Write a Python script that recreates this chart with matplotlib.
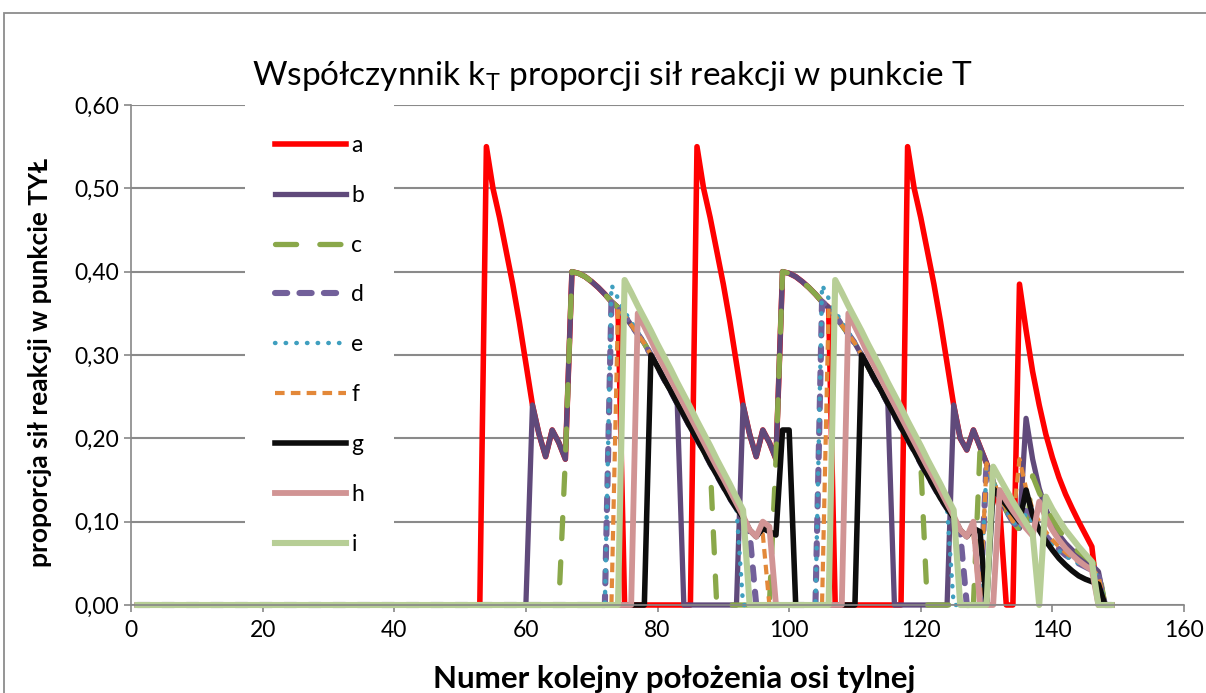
import matplotlib
matplotlib.use('Agg')
import matplotlib.pyplot as plt
import numpy as np
from matplotlib.patches import Rectangle

plt.rcParams['font.family'] = ['Lato', 'DejaVu Sans']

# rear axle position numbers
pos = np.arange(1, 150)

# shared descending curve (x = 67..93, repeats at 99..125)
env = [0.400, 0.398, 0.394, 0.388, 0.381, 0.373, 0.364, 0.357, 0.347, 0.336,
       0.325, 0.314, 0.300, 0.286, 0.271, 0.257, 0.242, 0.228, 0.213, 0.199,
       0.185, 0.170, 0.156, 0.142, 0.128, 0.116, 0.105]

a_peak = [0.55, 0.50, 0.465, 0.425, 0.385, 0.34, 0.29]
a_end = [0.19, 0.17, 0.145, 0.115, 0.0, 0.0, 0.385, 0.33, 0.28, 0.24, 0.205,
         0.177, 0.153, 0.133, 0.116, 0.10, 0.085, 0.07]
b_zig = [0.24, 0.205, 0.178, 0.21, 0.195, 0.175]
b_zig3 = [0.24, 0.20, 0.186, 0.21]
b_end = [0.19, 0.17, 0.148, 0.128, 0.113, 0.10, 0.092, 0.224, 0.175, 0.14,
         0.115, 0.097, 0.084, 0.074, 0.066, 0.059, 0.053, 0.048, 0.04]
c_rise = [0.175]
c_end = [0.185, 0.17, 0.148, 0.128, 0.113, 0.10, 0.09, 0.085, 0.155, 0.135,
         0.118, 0.103, 0.09, 0.08, 0.071, 0.064, 0.058, 0.052, 0.045]
d_tail = [0.085]
d_end = [0.17, 0.148, 0.128, 0.113, 0.10, 0.092, 0.12, 0.105, 0.093, 0.083,
         0.074, 0.067, 0.06, 0.055, 0.05, 0.046, 0.042, 0.035]
e_head = [0.384, 0.368, 0.352, 0.340, 0.327, 0.314]
e_end = [0.165, 0.148, 0.128, 0.113, 0.10, 0.092, 0.11, 0.10, 0.09, 0.08,
         0.072, 0.065, 0.059, 0.054, 0.05, 0.046, 0.042, 0.035]
f_zig = [0.09, 0.083, 0.085]
f_end = [0.17, 0.15, 0.13, 0.115, 0.10, 0.175, 0.14, 0.115, 0.10, 0.088,
         0.078, 0.07, 0.063, 0.057, 0.052, 0.047, 0.043, 0.035]
g_zig = [0.09, 0.082, 0.092, 0.088, 0.084, 0.21, 0.21]
g_zig3 = [0.09, 0.082, 0.092, 0.088]
g_end = [0.14, 0.13, 0.12, 0.11, 0.10, 0.138, 0.108, 0.09, 0.077, 0.066,
         0.056, 0.048, 0.041, 0.035, 0.031, 0.028, 0.025]
h_main = [0.350, 0.334, 0.318, 0.301, 0.286, 0.271, 0.256, 0.241, 0.226,
          0.211, 0.196, 0.181, 0.166, 0.152, 0.137, 0.122, 0.107]
h_zig = [0.09, 0.082, 0.10, 0.094]
h_zig3 = [0.09, 0.082, 0.10]
h_end = [0.138, 0.125, 0.113, 0.102, 0.092, 0.083, 0.124, 0.105, 0.09,
         0.078, 0.068, 0.06, 0.053, 0.047, 0.042]
i_main = [0.390, 0.375, 0.359, 0.344, 0.329, 0.313, 0.298, 0.283, 0.267,
          0.252, 0.237, 0.221, 0.206, 0.191, 0.175, 0.160, 0.145, 0.129, 0.114]
i_end = [0.166, 0.152, 0.138, 0.124, 0.111, 0.098, 0.086, 0.0, 0.13, 0.115,
         0.102, 0.09, 0.08, 0.07, 0.061, 0.052]

# (first position, values) pieces of each series, zero elsewhere
pieces = {
    'a': [(54, a_peak), (61, b_zig), (67, env[:8]), (86, a_peak), (93, b_zig),
          (99, env[:8]), (118, a_peak), (125, b_zig3), (129, a_end)],
    'b': [(61, b_zig), (67, env[:17]), (93, b_zig), (99, env[:17]),
          (125, b_zig3), (129, b_end)],
    'c': [(66, c_rise), (67, env[:22]), (98, c_rise), (99, env[:22]),
          (129, c_end)],
    'd': [(73, env[6:]), (94, d_tail), (105, env[6:]), (126, d_tail),
          (130, d_end)],
    'e': [(73, e_head), (79, env[12:26]), (105, e_head), (111, env[12:26]),
          (130, e_end)],
    'f': [(74, env[7:]), (94, f_zig), (106, env[7:]), (126, f_zig),
          (130, f_end)],
    'g': [(79, env[12:]), (94, g_zig), (111, env[12:]), (126, g_zig3),
          (131, g_end)],
    'h': [(77, h_main), (94, h_zig), (109, h_main), (126, h_zig3),
          (132, h_end)],
    'i': [(75, i_main), (107, i_main), (131, i_end)],
}

yticks = [0.0, 0.1, 0.2, 0.3, 0.4, 0.5, 0.6]
ytick_labels = ['0,00', '0,10', '0,20', '0,30', '0,40', '0,50', '0,60']
xticks = [0, 20, 40, 60, 80, 100, 120, 140, 160]


def build(parts):
    y = np.zeros(len(pos))
    for start, vals in parts:
        y[start - 1:start - 1 + len(vals)] = vals
    return y


styles = {
    'a': dict(color='#FF0000', lw=4.0),
    'b': dict(color='#604A7B', lw=3.8),
    'c': dict(color='#8AA84A', lw=3.8, ls=(0, (4.0, 4.4)), dash_capstyle='round'),
    'd': dict(color='#72609A', lw=4.4, ls=(0, (2.0, 2.0)), dash_capstyle='round'),
    'e': dict(color='#3F9FBF', lw=3.2, ls=(0, (0.1, 2.3)), dash_capstyle='round'),
    'f': dict(color='#E38839', lw=3.0, ls=(0, (2.3, 1.5))),
    'g': dict(color='#0D0D0D', lw=4.0),
    'h': dict(color='#D19494', lw=4.2),
    'i': dict(color='#B7CE96', lw=4.4),
}

fig = plt.figure(figsize=(12.06, 6.93), dpi=100)
ax = fig.add_axes([131 / 1206, 1 - 605 / 693, 1053 / 1206, 500 / 693])

for name, parts in pieces.items():
    ax.plot(pos, build(parts), label=name, solid_joinstyle='round',
            clip_on=False, **styles[name])

ax.set_xlim(0, 160)
ax.set_ylim(0, 0.6)
ax.set_xticks(xticks)
ax.set_yticks(yticks)
ax.set_yticklabels(ytick_labels)
ax.tick_params(labelsize=16.5, color='#888888', length=5, width=1.2)
ax.tick_params(axis='x', pad=6)
ax.yaxis.grid(True, color='#8a8a8a', lw=1.5)
ax.set_axisbelow(True)
for side in ['top', 'right']:
    ax.spines[side].set_visible(False)
for side in ['left', 'bottom']:
    ax.spines[side].set_color('#888888')
    ax.spines[side].set_linewidth(1.2)

ax.legend(loc='upper left', bbox_to_anchor=(0.108, 1.0), frameon=True,
          facecolor='white', edgecolor='none', framealpha=1, fancybox=False,
          fontsize=16.5, handlelength=3.1, handletextpad=0.25, labelspacing=1.26,
          borderpad=1.3, borderaxespad=0)

fig.text(612 / 1206, 1 - 76 / 693,
         'Współczynnik k$_\\mathregular{T}$ proporcji sił reakcji w punkcie T',
         ha='center', va='center', fontsize=24)
fig.text(40 / 1206, 1 - 362 / 693, 'proporcja sił reakcji w punkcie TYŁ',
         ha='center', va='center', rotation=90, fontsize=19, fontweight='bold')
fig.text(674 / 1206, 1 - 679 / 693, 'Numer kolejny położenia osi tylnej',
         ha='center', va='center', fontsize=22.5, fontweight='bold')

fig.add_artist(Rectangle((4 / 1206, -0.05), 1.2, 1 - 13 / 693 + 0.05,
                         transform=fig.transFigure, fill=False,
                         edgecolor='#8c8c8c', lw=1.3))

fig.savefig('out.png', dpi=100)
